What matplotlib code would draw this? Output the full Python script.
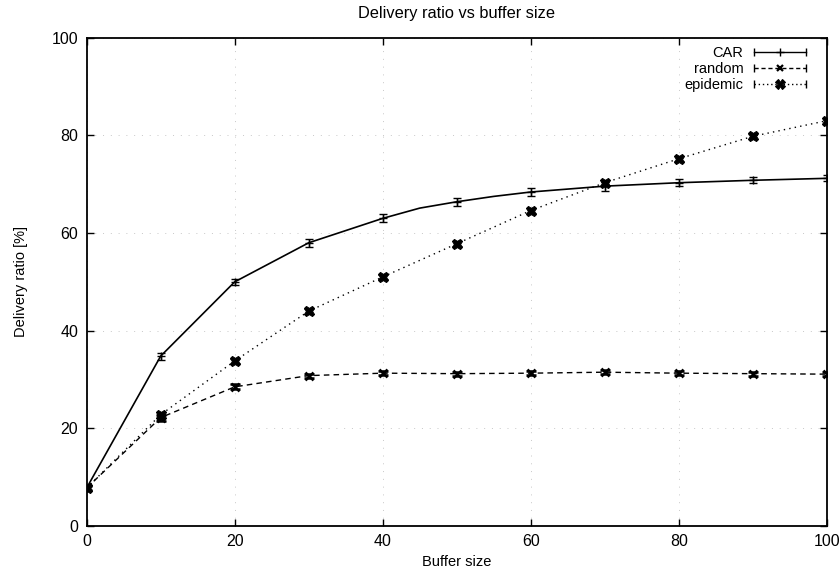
import matplotlib
matplotlib.use("Agg")
import matplotlib.pyplot as plt
from matplotlib.legend_handler import HandlerLine2D
from matplotlib.lines import Line2D
import numpy as np

plt.rcParams['font.family'] = ['Liberation Sans', 'DejaVu Sans']

# delivery ratio [%] per buffer size, with std errors
car_x = np.array([0, 10, 20, 30, 40, 45, 50, 55, 60, 70, 80, 90, 100])
car_y = np.array([7.8, 34.8, 50.0, 58.0, 63.0, 65.1, 66.4, 67.5, 68.4, 69.6, 70.3, 70.8, 71.2])
car_err = np.array([0.5, 0.7, 0.6, 0.8, 0.8, 0.0, 0.8, 0.0, 0.8, 0.9, 0.7, 0.6, 0.6])

buf = np.array([0, 10, 20, 30, 40, 50, 60, 70, 80, 90, 100])
random_y = np.array([7.8, 22.2, 28.5, 30.8, 31.3, 31.2, 31.3, 31.5, 31.3, 31.2, 31.1])
random_err = np.array([0.4, 0.6, 0.5, 0.4, 0.4, 0.4, 0.4, 0.4, 0.4, 0.4, 0.4])
epidemic_y = np.array([7.8, 22.8, 33.8, 44.0, 51.0, 57.8, 64.6, 70.3, 75.2, 79.8, 83.0])
epidemic_err = np.array([0.4, 0.6, 0.5, 0.5, 0.5, 0.5, 0.5, 0.6, 0.5, 0.5, 0.6])


# gnuplot-like legend sample: line with small caps at both ends
class CapHandler(HandlerLine2D):
    def create_artists(self, legend, orig_handle, xdescent, ydescent,
                       width, height, fontsize, trans):
        arts = super().create_artists(legend, orig_handle, xdescent, ydescent,
                                      width, height, fontsize, trans)
        y = (height - ydescent) / 2.0
        x0 = -xdescent
        caps = Line2D([x0, x0 + width], [y, y], linestyle='none', marker='|',
                      markersize=6, markeredgewidth=1.0, color='black')
        caps.set_transform(trans)
        return list(arts) + [caps]


fig = plt.figure(figsize=(8.4, 5.79), dpi=100)
ax = fig.add_axes([0.1032, 0.0915, 0.8810, 0.8434])

ax.plot(car_x, car_y, '-', color='black', lw=1.2)
tens = car_x % 10 == 0
ax.errorbar(car_x[tens], car_y[tens], yerr=car_err[tens], fmt='none', ecolor='black',
            capsize=3, elinewidth=1.0)
ax.plot(car_x[tens], car_y[tens], '+', color='black', ms=6, mew=1.0)

ax.errorbar(buf, random_y, yerr=random_err, fmt='-', marker='x', ls=(0, (4, 3)),
            color='black', ms=6, mew=1.8, capsize=3.5, elinewidth=1.2, lw=1.0)
ax.errorbar(buf, epidemic_y, yerr=epidemic_err, fmt='-', marker='X', ls=(0, (1, 3)),
            color='black', ms=7.5, mew=0.8, capsize=3.5, elinewidth=1.2, lw=1.0)

ax.set_xlim(0, 100)
ax.set_ylim(0, 100)
ax.set_xticks(np.arange(0, 101, 20))
ax.set_yticks(np.arange(0, 101, 20))
ax.tick_params(direction='in', length=5, width=1.0, labelsize=11.5,
               top=True, right=True, pad=6)
for s in ax.spines.values():
    s.set_linewidth(1.3)
ax.grid(True, color='#c8c8c8', ls=(0, (1, 7)), lw=0.7)

ax.set_title('Delivery ratio vs buffer size', fontsize=11.8, pad=14)
ax.set_xlabel('Buffer size', fontsize=10.5, labelpad=4)
ax.set_ylabel('Delivery ratio [%]', fontsize=10.5, labelpad=17)

handles = [
    Line2D([], [], color='black', ls='-', lw=1.0, marker='+', ms=6, mew=1.0),
    Line2D([], [], color='black', ls=(0, (3, 2)), lw=1.0, marker='x', ms=5, mew=1.6),
    Line2D([], [], color='black', ls=(0, (1, 2)), lw=1.0, marker='X', ms=7, mew=0.8),
]
ax.legend(handles, ['CAR', 'random', 'epidemic'], loc='upper right',
          bbox_to_anchor=(0.99, 1.01), frameon=False, markerfirst=False,
          fontsize=10.5, handlelength=3.6, handletextpad=0.7, labelspacing=0.15,
          handler_map={Line2D: CapHandler()})

fig.savefig('out.png', dpi=100)
